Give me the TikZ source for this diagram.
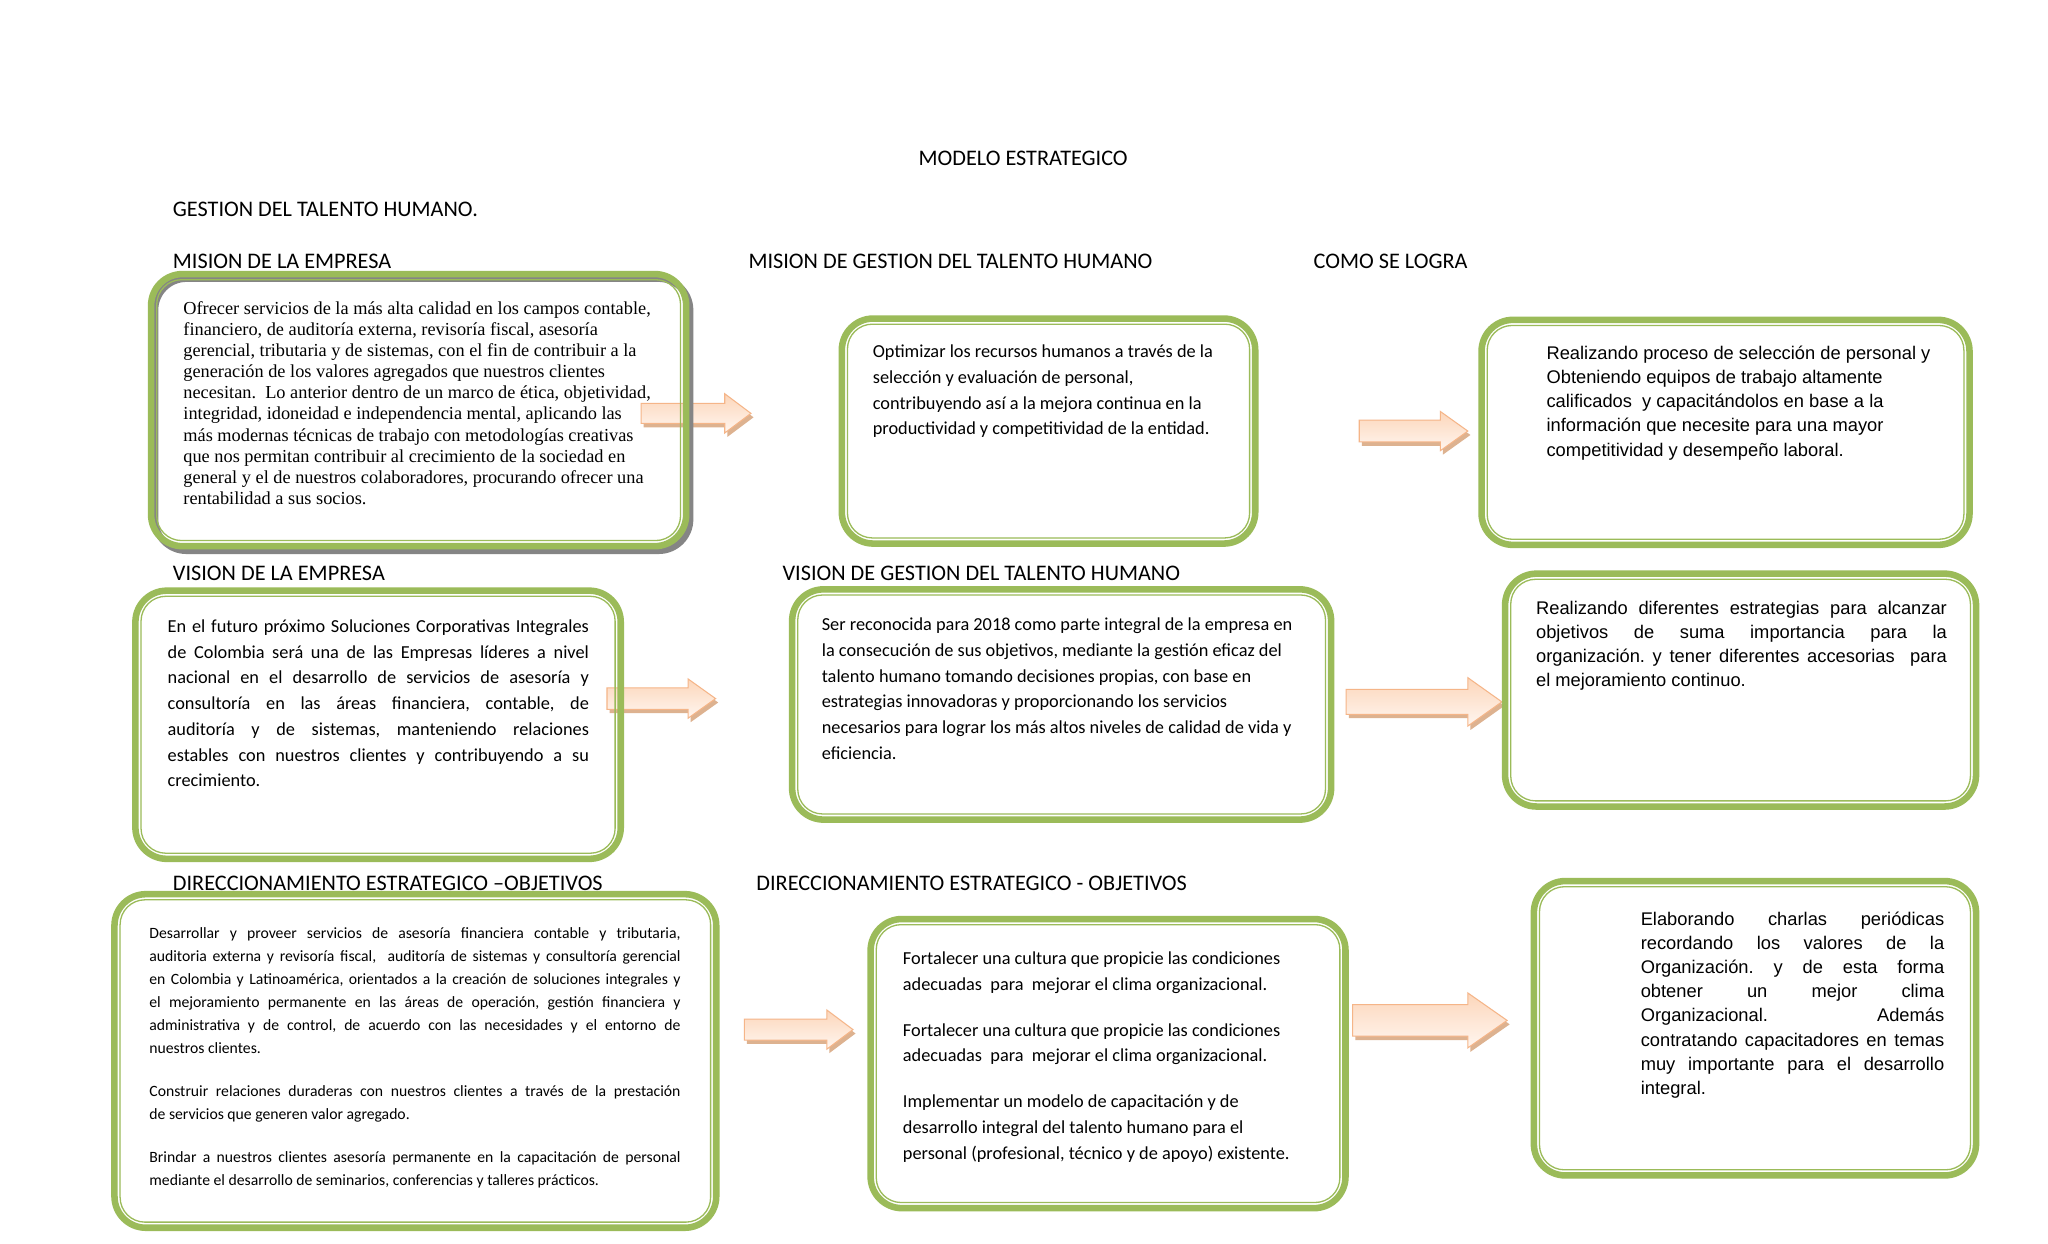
\documentclass[tikz,border=0pt]{standalone}
\usepackage{fontspec}
\setmainfont{Carlito}
\newfontfamily\arialf{Liberation Sans}
\newfontfamily\timesf{Liberation Serif}
\newfontfamily\calf{Carlito}
\frenchspacing
\definecolor{boxgreen}{HTML}{9BBB59}
\definecolor{boxshadow}{HTML}{858585}
\definecolor{arrline}{HTML}{F5B588}
\definecolor{arrtop}{HTML}{FCD6BA}
\definecolor{arrmid}{HTML}{FFEBDD}
\definecolor{arrbot}{HTML}{FFF6F0}
\definecolor{arrshadow}{HTML}{DDB290}
\newcommand\RL[1]{\hbox{#1}}
\newcommand\JL[1]{\hbox to\hsize{#1}}
\tikzset{
  title/.style={anchor=base west, inner sep=0pt, font=\calf\fontsize{17}{20}\selectfont},
  body/.style={anchor=base west, inner sep=0pt},
  gouter/.style={draw=boxgreen, line width=5pt, rounded corners=24pt},
  ginner/.style={draw=boxgreen, line width=1pt, rounded corners=19pt},
  gshadow/.style={draw=boxshadow, line width=5pt, rounded corners=24pt},
  arrfill/.style={top color=arrtop, middle color=arrmid, bottom color=arrbot, draw=arrline, line width=0.8pt},
}
% name, x1, y1, x2, y2
\newcommand\gbox[5]{%
  \coordinate (#1-nw) at (#2,#3);
  \coordinate (#1-se) at (#4,#5);
  \draw[gouter] ({#2+2.5},{#3+2.5}) rectangle ({#4-2.5},{#5-2.5});
  \draw[ginner] ({#2+6.8},{#3+6.8}) rectangle ({#4-6.8},{#5-6.8});
}
% name, x0, xhead, xtip, ycenter, shaft half, head half
\newcommand\barrow[7]{%
  \coordinate (#1-start) at (#2,#5);
  \coordinate (#1-tip) at (#4,#5);
  \fill[arrshadow] ({#2+2},{#5-#6+3}) -- ({#3+2},{#5-#6+3}) -- ({#3+2},{#5-#7+3}) -- ({#4+2},{#5+3})
     -- ({#3+2},{#5+#7+3}) -- ({#3+2},{#5+#6+3}) -- ({#2+2},{#5+#6+3}) -- cycle;
  \shadedraw[arrfill] (#2,{#5-#6}) -- (#3,{#5-#6}) -- (#3,{#5-#7}) -- (#1-tip)
     -- (#3,{#5+#7}) -- (#3,{#5+#6}) -- (#2,{#5+#6}) -- cycle;
}
\begin{document}
\begin{tikzpicture}[x=1pt,y=-1pt]
\useasboundingbox[fill=white] (0,0) rectangle (1565.5,950.2);

% titles
\node[title] (tmodelo) at (702,126.5) {MODELO ESTRATEGICO};
\node[title] (tgestion) at (132,165.5) {GESTION DEL TALENTO HUMANO.};
\node[title] (tmision1) at (132,205.5) {MISION DE LA EMPRESA};
\node[title] (tmision2) at (572,205.5) {MISION DE GESTION DEL TALENTO HUMANO};
\node[title] (tcomo) at (1004,205.5) {COMO SE LOGRA};
\node[title] (tvision1) at (132,443.5) {VISION DE LA EMPRESA};
\node[title] (tvision2) at (598,443.5) {VISION DE GESTION DEL TALENTO HUMANO};
\node[title] (tdir1) at (132,680.5) {DIRECCIONAMIENTO ESTRATEGICO –OBJETIVOS};
\node[title] (tdir2) at (578,680.5) {DIRECCIONAMIENTO ESTRATEGICO - OBJETIVOS};

% arrows (behind the boxes)
\barrow{a1}{490}{554}{574}{316}{7.6}{15}
\barrow{a2}{1039}{1101}{1122}{329.5}{8.3}{15}
\barrow{a3}{464}{526}{547}{534}{8.2}{15}
\barrow{a4}{1029}{1122}{1148}{536.5}{9.5}{18.5}
\barrow{a5}{569}{632}{652}{787}{8}{15}
\barrow{a6}{1034}{1122}{1152}{780}{12}{21}

% box shadow of box 1
\draw[gshadow] ({113+2.5+3},{207+2.5+3.5}) rectangle ({527-2.5+3},{420-2.5+3.5});

% boxes
\gbox{b1}{113}{207}{527}{420}
\gbox{b2}{641}{241}{962}{418}
\gbox{b3}{1130}{242}{1508}{419}
\gbox{b4}{101}{449}{477}{659}
\gbox{b5}{603}{448}{1020}{629}
\gbox{b6}{1148}{436}{1513}{619}
\gbox{b7}{85}{681}{550}{941}
\gbox{b8}{663}{700}{1031}{926}
\gbox{b9}{1170}{671}{1513}{901}

% texts
\node[body] (x1) at (140,240.5) {\vtop{\hsize=380pt\timesf\fontsize{14}{16.1}\selectfont
\RL{Ofrecer servicios de la más alta calidad en los campos contable,}
\RL{financiero, de auditoría externa, revisoría fiscal, asesoría}
\RL{gerencial, tributaria y de sistemas, con el fin de contribuir a la}
\RL{generación de los valores agregados que nuestros clientes}
\RL{necesitan.\ \ Lo anterior dentro de un marco de ética, objetividad,}
\RL{integridad, idoneidad e independencia mental, aplicando las}
\RL{más modernas técnicas de trabajo con metodologías creativas}
\RL{que nos permitan contribuir al crecimiento de la sociedad en}
\RL{general y el de nuestros colaboradores, procurando ofrecer una}
\RL{rentabilidad a sus socios.}}};

\node[body] (x2) at (667,273.3) {\vtop{\hsize=290pt\calf\fontsize{14}{19.7}\selectfont
\RL{Optimizar los recursos humanos a través de la}
\RL{selección y evaluación de personal,}
\RL{contribuyendo así a la mejora continua en la}
\RL{productividad y competitividad de la entidad.}}};

\node[body] (x3) at (1182,274.6) {\vtop{\hsize=310pt\arialf\fontsize{14}{18.5}\selectfont
\RL{Realizando proceso de selección de personal y}
\RL{Obteniendo equipos de trabajo altamente}
\RL{calificados\ \ y capacitándolos en base a la}
\RL{información que necesite para una mayor}
\RL{competitividad y desempeño laboral.}}};

\node[body] (x4) at (128,483.3) {\vtop{\hsize=322pt\calf\fontsize{14}{19.7}\selectfont
\JL{En el futuro próximo Soluciones Corporativas Integrales}
\JL{de Colombia será una de las Empresas líderes a nivel}
\JL{nacional en el desarrollo de servicios de asesoría y}
\JL{consultoría en las áreas financiera, contable, de}
\JL{auditoría y de sistemas, manteniendo relaciones}
\JL{estables con nuestros clientes y contribuyendo a su}
\RL{crecimiento.}}};

\node[body] (x5) at (628,482.3) {\vtop{\hsize=380pt\calf\fontsize{14}{19.6}\selectfont
\RL{Ser reconocida para 2018 como parte integral de la empresa en}
\RL{la consecución de sus objetivos, mediante la gestión eficaz del}
\RL{talento humano tomando decisiones propias, con base en}
\RL{estrategias innovadoras y proporcionando los servicios}
\RL{necesarios para lograr los más altos niveles de calidad de vida y}
\RL{eficiencia.}}};

\node[body] (x6) at (1174,469.6) {\vtop{\hsize=314pt\arialf\fontsize{14}{18.3}\selectfont
\JL{Realizando diferentes estrategias para alcanzar}
\JL{objetivos de suma importancia para la}
\JL{organización. y tener diferentes accesorias\ \ para}
\RL{el mejoramiento continuo.}}};

\node[body] (x7) at (114,717.6) {\vtop{\hsize=406pt\calf\fontsize{12}{17.5}\selectfont
\JL{Desarrollar y proveer servicios de asesoría financiera contable y tributaria,}
\JL{auditoria externa y revisoría fiscal,\ \ auditoría de sistemas y consultoría gerencial}
\JL{en Colombia y Latinoamérica, orientados a la creación de soluciones integrales y}
\JL{el mejoramiento permanente en las áreas de operación, gestión financiera y}
\JL{administrativa y de control, de acuerdo con las necesidades y el entorno de}
\RL{nuestros clientes.}
\vskip 15.5pt
\JL{Construir relaciones duraderas con nuestros clientes a través de la prestación}
\RL{de servicios que generen valor agregado.}
\vskip 15.5pt
\JL{Brindar a nuestros clientes asesoría permanente en la capacitación de personal}
\RL{mediante el desarrollo de seminarios, conferencias y talleres prácticos.}}};

\node[body] (x8) at (690,737.3) {\vtop{\hsize=320pt\calf\fontsize{14}{19.7}\selectfont
\RL{Fortalecer una cultura que propicie las condiciones}
\RL{adecuadas\ \ para\ \ mejorar el clima organizacional.}
\vskip 15.3pt
\RL{Fortalecer una cultura que propicie las condiciones}
\RL{adecuadas\ \ para\ \ mejorar el clima organizacional.}
\vskip 15.3pt
\RL{Implementar un modelo de capacitación y de}
\RL{desarrollo integral del talento humano para el}
\RL{personal (profesional, técnico y de apoyo) existente.}}};

\node[body] (x9) at (1254,707.6) {\vtop{\hsize=232pt\arialf\fontsize{14}{18.4}\selectfont
\JL{Elaborando charlas periódicas}
\JL{recordando los valores de la}
\JL{Organización. y de esta forma}
\JL{obtener un mejor clima}
\JL{Organizacional. Además}
\JL{contratando capacitadores en temas}
\JL{muy importante para el desarrollo}
\RL{integral.}}};
\end{tikzpicture}
\end{document}
